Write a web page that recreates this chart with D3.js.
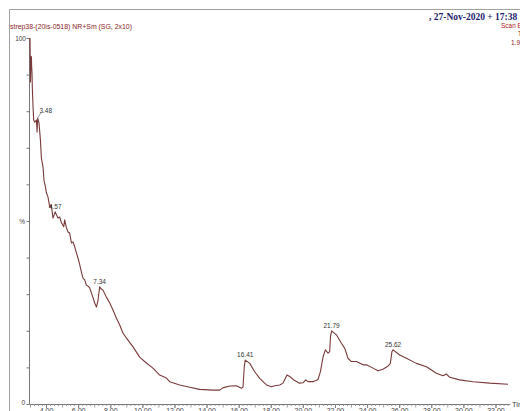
<!DOCTYPE html>
<html>
<head>
<meta charset="utf-8">
<script src="https://cdn.jsdelivr.net/npm/d3@7"></script>
<style>
  body { margin: 0; background: #fff; }
  svg { display: block; font-family: "Liberation Sans", Arial, sans-serif; }
</style>
</head>
<body>
<svg id="chart" width="520" height="411"></svg>
<script>
// retention time (min) / relative intensity (%)
var times = [3.00, 3.03, 3.06, 3.09, 3.10, 3.125, 3.15, 3.19, 3.23, 3.29, 3.40, 3.44, 3.48, 3.56, 3.65, 3.71, 3.81, 3.87, 3.96, 4.02,
  4.12, 4.23, 4.33, 4.43, 4.57, 4.74, 4.85, 4.96, 5.10, 5.16, 5.27, 5.37, 5.47, 5.58, 5.68, 5.79, 5.89, 5.99, 6.10, 6.20,
  6.30, 6.41, 6.51, 6.61, 6.72, 6.83, 6.93, 7.03, 7.14, 7.24, 7.34, 7.45, 7.55, 7.76, 7.97, 8.17, 8.38, 8.59, 8.79, 9.01,
  9.42, 9.83, 10.25, 10.66, 11.08, 11.50, 11.70, 12.33, 12.95, 13.57, 14.38, 14.82, 15.01, 15.45, 15.86, 16.17, 16.27, 16.35, 16.41, 16.69,
  17.00, 17.31, 17.73, 18.04, 18.25, 18.56, 18.76, 19.01, 19.18, 19.49, 19.80, 20.01, 20.18, 20.32, 20.63, 20.94, 21.09, 21.26, 21.40, 21.57,
  21.67, 21.72, 21.79, 22.09, 22.40, 22.61, 22.81, 23.02, 23.34, 23.75, 23.96, 24.37, 24.68, 24.99, 25.31, 25.45, 25.55, 25.62, 26.03, 26.45,
  27.07, 27.70, 28.32, 28.73, 28.94, 29.15, 29.77, 30.60, 31.64, 32.78];
var intensity = [100, 88, 95, 94.8, 92.6, 90.4, 85.8, 81.1, 77.6, 77.0, 77.6, 74.3, 78.1, 76.8, 72.1, 67.2, 64.8, 61.2, 59.3, 57.7,
  56.6, 53.8, 54.4, 50.8, 52.5, 50.8, 51.1, 49.5, 48.4, 50.3, 48.1, 47.0, 46.7, 44.0, 44.3, 42.9, 41.3, 39.9, 38.0, 36.1,
  34.4, 33.9, 32.5, 32.2, 31.7, 30.3, 29.0, 27.6, 26.5, 28.4, 32.0, 31.4, 31.1, 29.2, 27.6, 25.7, 23.5, 21.6, 19.4, 18.0,
  15.6, 12.8, 11.2, 9.8, 7.9, 7.1, 6.1, 5.2, 4.6, 4.0, 3.8, 3.8, 4.4, 4.9, 5.0, 4.3, 4.6, 10.2, 12.0, 11.1,
  8.8, 7.0, 5.2, 4.7, 5.0, 5.2, 5.7, 7.9, 7.5, 6.4, 5.7, 5.8, 6.6, 6.1, 6.1, 6.7, 8.8, 12.9, 14.8, 13.9,
  14.3, 18.4, 20.0, 18.9, 16.6, 15.2, 12.5, 11.6, 11.6, 10.7, 10.7, 9.8, 9.1, 9.5, 10.4, 11.1, 14.3, 14.8, 13.4, 12.5,
  11.1, 10.2, 8.4, 7.7, 8.2, 7.3, 6.6, 6.1, 5.7, 5.4];

var peakTimes = [3.48, 4.57, 7.34, 16.41, 21.79, 25.62];
var xTickLabels = [4, 6, 8, 10, 12, 14, 16, 18, 20, 22, 24, 26, 28, 30, 32];

var titleText = "strep38-(20is-0518) NR+Sm (SG, 2x10)";
var dateText = ", 27-Nov-2020 + 17:38";
var headerLines = ["Scan ES+", "TIC", "1.93e9"];

var svg = d3.select("#chart");
var lineColor = "#7a3a3a";

var xScale = d3.scaleLinear().domain([3.0, 32.78]).range([30, 508]);
var yScale = d3.scaleLinear().domain([0, 100]).range([404, 38]);

// frame
svg.append("path")
  .attr("d", "M9.5,420 L9.5,9.5 L530,9.5")
  .attr("fill", "none").attr("stroke", "#a0a0a0").attr("stroke-width", 1);

// header texts
svg.append("text").attr("x", 10).attr("y", 29)
  .attr("font-size", 7).attr("fill", "#8b2323")
  .attr("textLength", 122).attr("lengthAdjust", "spacingAndGlyphs")
  .text(titleText);
svg.append("text").attr("x", 429).attr("y", 20)
  .attr("font-family", "'Liberation Serif', 'Times New Roman', serif")
  .attr("font-weight", "bold").attr("font-size", 9.5).attr("fill", "#1c1c6b")
  .text(dateText);
svg.append("text").attr("x", 501).attr("y", 28).attr("font-size", 6.5).attr("fill", "#b22222").text(headerLines[0]);
svg.append("text").attr("x", 518).attr("y", 36).attr("font-size", 6.5).attr("fill", "#8b2323").text(headerLines[1]);
svg.append("text").attr("x", 511).attr("y", 45).attr("font-size", 6.5).attr("fill", "#8b2323").text(headerLines[2]);

// x axis
var xAxis = d3.axisBottom(xScale).tickValues(xTickLabels).tickSize(4)
  .tickFormat(d3.format(".2f"));
var xg = svg.append("g").attr("transform", "translate(0,404)").call(xAxis);
xg.select(".domain").attr("stroke", "#777").attr("d", "M29.5,0.5H510");
xg.selectAll(".tick line").attr("stroke", "#777");
xg.selectAll(".tick text").attr("font-size", 7).attr("fill", "#444").attr("dy", "0.55em").attr("y", 5);
xg.attr("font-family", null);

var minor = d3.range(3.0, 32.8, 0.25);
svg.append("g").selectAll("line").data(minor).join("line")
  .attr("x1", function (d) { return xScale(d) + 0.5; })
  .attr("x2", function (d) { return xScale(d) + 0.5; })
  .attr("y1", 404)
  .attr("y2", function (d) { return Math.abs(d - Math.round(d)) < 0.01 ? 407.5 : 406; })
  .attr("stroke", "#888").attr("stroke-width", 0.8);

svg.append("text").attr("x", 512).attr("y", 407).attr("font-size", 7.5).attr("fill", "#444").text("Time");

// y axis
var yAxis = d3.axisLeft(yScale).tickValues(d3.range(0, 101, 10)).tickSize(3).tickFormat("");
var yg = svg.append("g").attr("transform", "translate(29.5,0)").call(yAxis);
yg.select(".domain").attr("stroke", "#777").attr("d", "M0,38V404");
yg.selectAll(".tick line").attr("stroke", "#777");

svg.append("text").attr("x", 26).attr("y", yScale(100) + 2.5).attr("text-anchor", "end")
  .attr("font-size", 6.5).attr("fill", "#444").text("100");
svg.append("text").attr("x", 25).attr("y", yScale(0) + 1).attr("text-anchor", "end")
  .attr("font-size", 6.5).attr("fill", "#444").text("0");
svg.append("text").attr("x", 25).attr("y", yScale(50) + 2.5).attr("text-anchor", "end")
  .attr("font-size", 6.5).attr("fill", "#444").text("%");

// chromatogram trace
var points = times.map(function (t, i) { return [t, intensity[i]]; });
var trace = d3.line()
  .x(function (d) { return xScale(d[0]); })
  .y(function (d) { return yScale(d[1]); });
svg.append("path")
  .attr("d", trace(points))
  .attr("fill", "none")
  .attr("stroke", lineColor)
  .attr("stroke-width", 1.1)
  .attr("stroke-linejoin", "round");

// peak labels
peakTimes.forEach(function (pt, i) {
  var idx = d3.minIndex(times, function (t) { return Math.abs(t - pt); });
  var px = xScale(pt);
  var py = yScale(intensity[idx]);
  var lx = px;
  var ly = py - 3;
  if (i === 0) {
    lx = px + 8;
    ly = py - 5;
    svg.append("line").attr("x1", px).attr("y1", py)
      .attr("x2", px + 3).attr("y2", py - 5)
      .attr("stroke", "#555").attr("stroke-width", 0.6);
  }
  svg.append("text").attr("x", lx).attr("y", ly)
    .attr("text-anchor", "middle").attr("font-size", 6.5).attr("fill", "#333")
    .text(pt.toFixed(2));
});
</script>
</body>
</html>
